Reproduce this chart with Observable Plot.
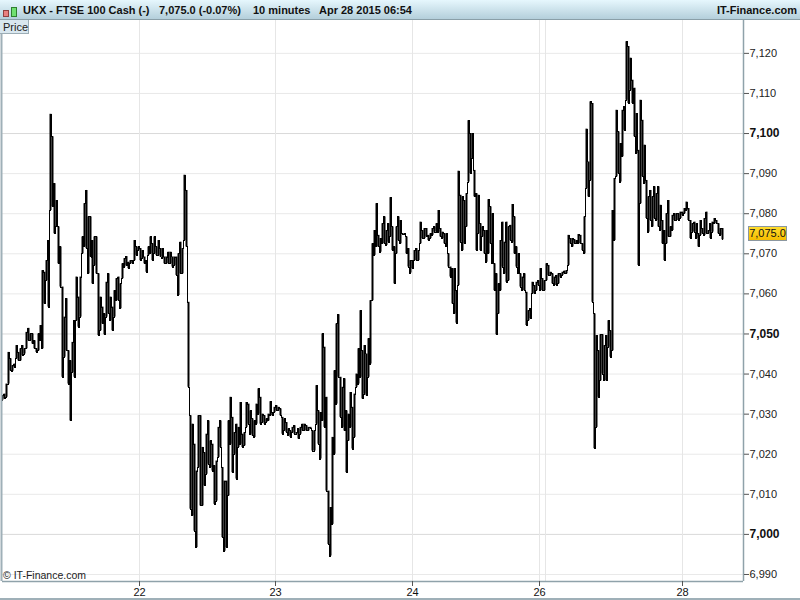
<!DOCTYPE html>
<html>
<head>
<meta charset="utf-8">
<script src="https://cdn.jsdelivr.net/npm/d3@7"></script>
<script src="https://cdn.jsdelivr.net/npm/@observablehq/plot@0.6"></script>
<style>
html,body{margin:0;padding:0;background:#fff;width:800px;height:600px;overflow:hidden;font-family:"Liberation Sans",Arial,sans-serif}
#wrap{position:relative;width:800px;height:600px;overflow:hidden}
#head{position:relative;height:19px;border-bottom:1px solid #8a9fa8;background:linear-gradient(#e6f7fd,#b4cfdb);font-weight:bold;font-size:11px;color:#111;line-height:20px}
#head span{position:absolute;top:0;white-space:pre}
.c{position:absolute;box-sizing:border-box}
#tab{position:absolute;left:0;top:20px;width:29px;height:14px;background:#d9e7ef;border:1px solid #9cadb5;border-left:0;border-top:0;font-size:11px;line-height:14px;padding-left:3px;box-sizing:border-box;color:#222}
#copy{position:absolute;left:3px;top:569px;font-size:10.5px;color:#222}
#last{position:absolute;left:748px;width:39px;height:15px;box-sizing:border-box;background:linear-gradient(#ffdc2e,#f5bd00);border:1px solid #8b97a0;font-size:11px;line-height:13px;text-align:center;color:#111}
#bottom{position:absolute;left:0;top:598px;width:800px;height:2px;background:#9fb0b8}
#chart{position:absolute;left:0;top:20px}
svg text{font-family:"Liberation Sans",Arial,sans-serif}
</style>
</head>
<body>
<div id="wrap">
<div id="head">
<div class="c" style="left:3px;top:10px;width:6px;height:7px;background:#e88080;border:1px solid #904040"></div>
<div class="c" style="left:11px;top:7px;width:6px;height:10px;background:#70e070;border:1px solid #308030"></div>
<span style="left:23px">UKX - FTSE 100 Cash (-)</span>
<span style="left:159px">7,075.0 (-0.07%)</span>
<span style="left:253px">10 minutes</span>
<span style="left:319px">Apr 28 2015 06:54</span>
<span style="right:3px">IT-Finance.com</span>
</div>
<div id="chart"></div>
<div id="tab">Price</div>
<div id="copy">© IT-Finance.com</div>
<div id="last"></div>
<div id="bottom"></div>
</div>
<script>
const highs = [
7034.6,7035.0,7037.5,7045.4,7043.8,7042.1,7042.5,7047.1,7045.4,7046.3,
7047.1,7046.3,7050.4,7051.4,7050.0,7050.0,7048.3,7046.3,7050.0,7052.1,
7065.8,7065.4,7068.3,7073.3,7104.8,7099.2,7087.5,7083.3,7076.7,7071.7,
7061.7,7054.2,7058.8,7045.8,7043.3,7047.9,7053.3,7064.2,7059.2,7064.2,
7074.2,7082.5,7085.8,7079.2,7079.2,7073.3,7074.2,7074.2,7065.0,7059.2,
7056.7,7055.0,7062.9,7065.0,7059.2,7056.7,7060.8,7063.8,7064.2,7062.5,
7067.5,7068.8,7069.3,7067.9,7068.3,7068.3,7073.3,7071.7,7071.7,7071.3,
7070.8,7069.2,7068.3,7071.7,7074.2,7072.5,7074.2,7071.7,7073.3,7071.3,
7071.3,7069.2,7069.2,7070.4,7070.4,7069.2,7069.2,7069.2,7070.0,7072.9,
7071.3,7089.6,7085.8,7057.9,
7029.6,7027.5,7022.5,7015.8,7029.6,7029.6,7021.7,7020.4,7025.0,7028.3,
7023.3,7022.5,7017.1,7018.3,7026.7,7028.3,7016.7,7013.3,7013.3,7028.3,
7034.2,7029.2,7025.4,7027.5,7026.7,7032.9,7025.0,7025.4,7032.9,7032.5,
7030.8,7028.8,7028.3,7032.5,7036.3,7034.2,7030.0,7029.6,7028.8,7030.0,
7033.1,7030.4,7031.7,7032.1,7031.7,7031.3,7029.2,7028.8,7027.9,7026.3,
7025.8,7026.7,7027.1,7025.4,7026.3,7026.7,7027.5,7027.5,7027.1,7026.7,
7026.7,7025.8,7025.8,7037.1,7030.8,7030.4,7050.0,7046.7,7034.2,7010.8,
7006.7,7024.2,7040.8,7052.5,7054.8,7039.2,7036.7,7038.8,7030.8,7030.0,
7035.4,7031.7,7035.0,7040.0,7046.3,7055.8,7045.8,7047.1,7045.0,7048.8,
7058.3,7072.5,7075.8,7082.5,
7074.6,7073.8,7077.5,7079.2,7075.8,7077.5,7084.0,7076.7,7071.7,7076.7,
7079.2,7078.3,7075.0,7075.0,7074.2,7071.3,7068.3,7068.3,7070.8,7071.3,
7070.8,7077.9,7075.8,7076.3,7076.3,7074.6,7075.0,7076.3,7076.7,7077.5,
7080.8,7076.3,7075.4,7075.0,7075.0,7070.0,7066.7,7066.3,7066.3,7060.8,
7090.6,7084.6,7084.2,7083.3,7085.0,7103.2,7100.0,7100.0,7090.8,7085.0,
7084.6,7077.5,7076.7,7075.8,7075.8,7083.5,7081.7,7080.0,7067.5,7065.0,
7062.5,7073.3,7077.9,7072.9,7077.9,7076.7,7077.1,7082.3,7079.2,7071.7,
7070.0,7065.0,7064.2,7065.0,7060.4,7055.8,7056.3,7062.9,7062.1,7062.9,
7063.3,7066.3,7063.8,7063.3,7067.5,7067.1,7065.4,7065.0,7064.2,7064.6,
7065.0,7065.0,7065.4,7065.7,7065.8,7074.6,7073.8,
7073.8,7073.5,7073.3,7074.8,7074.6,7072.5,7079.2,7101.1,7092.9,7107.9,
7107.5,7055.0,7049.6,7045.8,7049.8,7049.8,7047.1,7049.6,7053.3,7050.8,
7080.8,7088.8,7105.8,7100.4,7097.5,7105.8,7106.7,7122.9,7121.7,7118.8,
7113.3,7111.3,7105.0,7095.8,7108.3,7103.3,7097.1,7088.3,7084.2,7085.8,
7084.2,7086.7,7085.0,7086.7,7082.1,7078.3,7075.8,7080.0,7083.3,7076.7,
7079.6,
7080.0,7080.0,7080.0,7080.4,7080.4,7081.3,7082.9,7081.3,7078.3,7077.5,
7077.9,7077.5,7075.0,7078.3,7076.3,7078.8,7080.4,7075.8,7077.5,7077.9,
7078.8,7078.3,7077.5,7076.3,7076.3
];
const lows = [
7033.5,7033.8,7034.2,7037.5,7040.8,7040.7,7041.7,7043.8,7043.3,7043.3,
7044.6,7045.0,7046.3,7048.3,7048.3,7047.5,7046.3,7045.4,7045.8,7048.3,
7046.3,7057.5,7063.3,7056.7,7080.8,7081.7,7075.0,7076.7,7067.5,7061.7,
7039.2,7044.2,7045.8,7037.5,7028.3,7040.4,7039.2,7053.3,7051.7,7054.2,
7070.0,7071.7,7071.3,7065.0,7069.2,7062.5,7067.1,7065.0,7049.6,7050.8,
7052.5,7049.8,7054.2,7055.0,7053.3,7050.8,7054.2,7058.3,7058.3,7056.3,
7063.8,7066.7,7067.1,7066.3,7067.5,7067.5,7068.3,7069.6,7070.8,7068.3,
7068.8,7067.5,7065.4,7069.6,7070.0,7068.3,7070.0,7069.6,7069.6,7069.2,
7068.8,7067.5,7067.5,7067.5,7067.5,7066.7,7067.1,7064.6,7059.6,7065.0,
7065.0,7073.3,7071.7,7036.7,
7006.3,7004.6,7000.8,6996.7,7016.7,7007.1,7007.1,7012.1,7015.0,7017.5,
7016.7,7015.8,7007.5,7008.3,7019.2,7021.7,6999.2,6995.8,6996.7,7009.6,
7022.5,7015.4,7020.0,7013.8,7021.7,7022.5,7021.7,7022.1,7026.7,7027.5,
7025.0,7024.6,7024.2,7027.5,7030.0,7027.5,7027.9,7027.5,7027.9,7028.3,
7029.6,7029.6,7030.4,7030.8,7030.8,7029.6,7025.0,7025.8,7025.4,7024.6,
7024.2,7025.4,7025.0,7025.0,7023.8,7025.0,7025.8,7025.8,7025.8,7025.8,
7026.3,7020.8,7020.8,7027.5,7022.5,7018.8,7028.3,7026.7,7010.8,6997.5,
6994.6,7002.5,7020.0,7032.5,7039.2,7029.2,7026.7,7025.8,7015.4,7023.3,
7026.7,7021.3,7024.2,7036.7,7037.5,7039.2,7033.8,7035.0,7034.6,7039.2,
7042.5,7058.3,7069.6,7071.7,
7071.7,7070.4,7072.5,7072.5,7072.1,7072.9,7074.2,7070.8,7062.5,7070.0,
7073.3,7072.5,7074.8,7074.8,7070.0,7066.7,7065.2,7066.3,7068.3,7068.3,
7068.3,7072.5,7073.8,7073.8,7074.2,7073.3,7073.8,7074.6,7075.4,7075.4,
7075.4,7074.2,7073.8,7072.5,7071.7,7066.7,7064.2,7057.5,7055.0,7052.7,
7062.1,7072.9,7070.8,7072.5,7076.7,7087.9,7090.0,7093.8,7084.2,7070.8,
7075.0,7070.8,7074.2,7070.0,7067.9,7070.0,7072.5,7067.5,7060.8,7049.8,
7055.0,7060.8,7066.7,7065.0,7062.9,7063.3,7073.3,7072.9,7070.0,7066.7,
7065.0,7061.7,7060.8,7060.8,7052.1,7053.3,7053.8,7060.0,7060.0,7060.8,
7062.1,7060.8,7060.8,7060.8,7063.3,7064.6,7064.6,7062.5,7062.1,7062.1,
7062.5,7064.2,7064.6,7065.0,7065.0,7067.1,7072.5,
7071.7,7072.5,7072.5,7072.5,7072.5,7070.8,7070.0,7086.3,7084.2,7088.3,
7057.9,7021.4,7026.7,7034.2,7038.3,7040.0,7038.3,7038.3,7046.7,7044.2,
7045.8,7073.3,7089.2,7090.0,7087.9,7094.2,7100.8,7108.3,7107.5,7110.8,
7107.5,7099.2,7095.0,7067.1,7082.5,7089.2,7087.5,7078.8,7075.4,7078.3,
7076.7,7078.8,7078.3,7076.7,7075.8,7072.5,7068.3,7072.5,7074.2,7074.2,
7075.8,
7078.3,7078.3,7078.3,7078.8,7079.6,7080.0,7080.8,7078.3,7073.8,7075.4,
7075.4,7073.8,7071.7,7074.6,7075.0,7074.6,7075.0,7075.0,7073.8,7075.4,
7077.5,7077.5,7075.0,7074.6,7073.5
];
const priceTicks = [7120,7110,7100,7090,7080,7070,7060,7050,7040,7030,7020,7010,7000,6990];
const strongTicks = [7100,7050,7000];
const dateLabels = ["22","23","24","26","28"];
const dateSlots = [68.5,136.5,205,268.5,340];
const extraGridSlots = [271.5];
const lastPrice = 7075.0;

// each slot's range, and a stepped trace that joins one slot to the next
const slots = highs.map((h, i) => ({slot: i, high: h, low: lows[i]}));
const trace = [];
let prev = (highs[0] + lows[0]) / 2;
highs.forEach((h, i) => {
  const l = lows[i];
  const order = Math.abs(prev - l) <= Math.abs(prev - h) ? [l, h] : [h, l];
  order.forEach(p => trace.push({slot: i, price: p}));
  prev = order[1];
});

const weak = priceTicks.filter(t => !strongTicks.includes(t));
const fmt = d3.format(",d");

const chart = Plot.plot({
  width: 800,
  height: 580,
  marginTop: 0,
  marginBottom: 19,
  marginLeft: 2,
  marginRight: 57,
  style: {background: "transparent", overflow: "visible"},
  x: {type: "linear", domain: [0, 370.5], axis: null},
  y: {type: "linear", domain: [6988.25, 7128.2], axis: null},
  marks: [
    Plot.ruleY(weak, {stroke: "#e9e9e9", strokeWidth: 1}),
    Plot.ruleY(strongTicks, {stroke: "#d9d9d9", strokeWidth: 1}),
    Plot.ruleX([...dateSlots, ...extraGridSlots], {stroke: "#e6e6e6", strokeWidth: 1}),
    Plot.ruleX(slots, {x: "slot", y1: "low", y2: "high", stroke: "#000", strokeWidth: 2}),
    Plot.line(trace, {x: "slot", y: "price", curve: "step", stroke: "#000", strokeWidth: 1, shapeRendering: "crispEdges"}),
    Plot.ruleX([370.5], {stroke: "#8fa2aa", strokeWidth: 1.5}),
    Plot.ruleX([0], {stroke: "#9fb0b8", strokeWidth: 2, dx: -1}),
    Plot.ruleY([6988.25], {stroke: "#8fa2aa", strokeWidth: 1.5}),
    Plot.axisY(weak, {anchor: "right", tickSize: 5, tickPadding: 1, tickFormat: fmt, fontSize: 11, stroke: "#555", fill: "#222", label: null}),
    Plot.axisY(strongTicks, {anchor: "right", tickSize: 5, tickPadding: 1, tickFormat: fmt, fontSize: 12, fontWeight: "bold", stroke: "#555", fill: "#111", label: null}),
    Plot.axisX(dateSlots, {anchor: "bottom", tickSize: 5, tickPadding: 2, tickFormat: (d, i) => dateLabels[i], fontSize: 11, stroke: "#555", fill: "#111", label: null})
  ]
});
document.getElementById("chart").appendChild(chart);

const last = document.getElementById("last");
last.textContent = "7,075.0";
last.style.top = (20 + chart.scale("y").apply(lastPrice) - 7.5) + "px";
</script>
</body>
</html>
